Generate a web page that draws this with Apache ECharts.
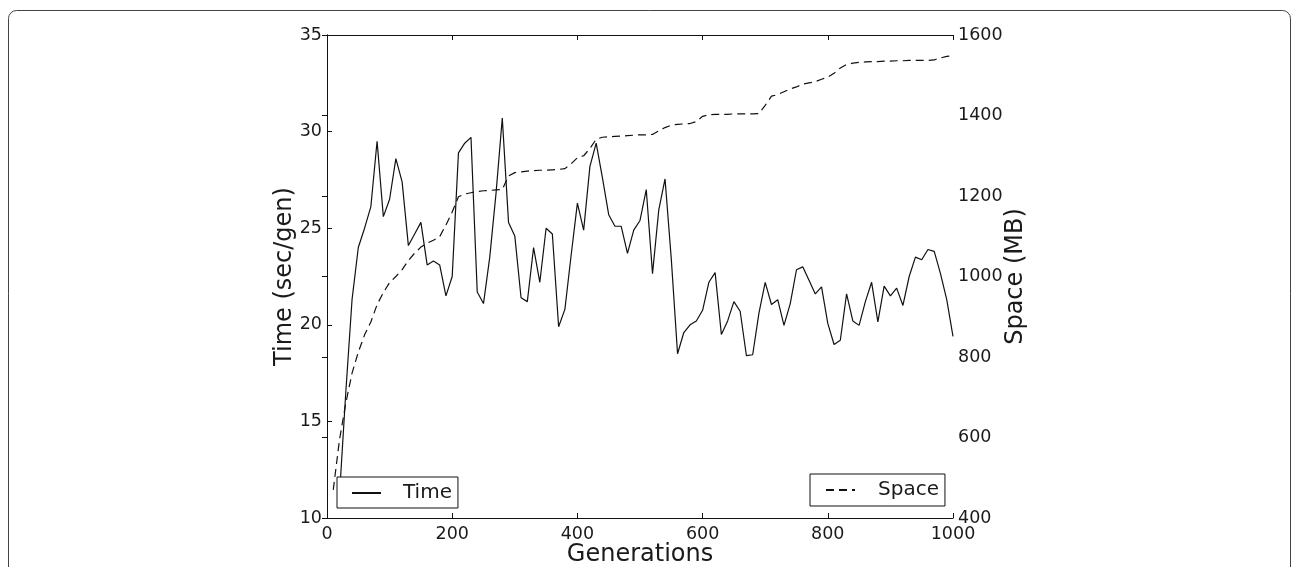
<!DOCTYPE html>
<html>
<head>
<meta charset="utf-8">
<script src="https://cdn.jsdelivr.net/npm/echarts@6/dist/echarts.min.js"></script>
<style>
  html, body { margin: 0; padding: 0; background: #fff; overflow: hidden; }
  #chart { width: 1292px; height: 567px; }
</style>
</head>
<body>
<div id="chart"></div>
<script>
const generations = [10,20,30,40,50,60,70,80,90,100,110,120,130,140,150,160,170,180,190,200,
  210,220,230,240,250,260,270,280,290,300,310,320,330,340,350,360,370,380,390,400,
  410,420,430,440,450,460,470,480,490,500,510,520,530,540,550,560,570,580,590,600,
  610,620,630,640,650,660,670,680,690,700,710,720,730,740,750,760,770,780,790,800,
  810,820,830,840,850,860,870,880,890,900,910,920,930,940,950,960,970,980,990,1000];

const timeValues = [null,11.2,16.5,21.3,24.0,25.0,26.1,29.5,25.6,26.5,
  28.6,27.4,24.1,24.7,25.3,23.1,23.3,23.1,21.5,22.5,
  28.9,29.4,29.7,21.7,21.1,23.5,26.8,30.7,25.3,24.6,
  21.4,21.2,24.0,22.2,25.0,24.7,19.9,20.8,23.6,26.3,
  24.9,28.2,29.4,27.6,25.7,25.1,25.1,23.7,24.9,25.4,
  27.0,22.65,25.95,27.55,23.4,18.5,19.6,20.0,20.2,20.75,
  22.2,22.7,19.5,20.2,21.2,20.7,18.4,18.45,20.6,22.2,
  21.05,21.3,19.97,21.1,22.85,23.0,22.3,21.6,21.96,20.07,
  18.98,19.2,21.6,20.2,19.97,21.2,22.2,20.15,22.0,21.5,
  21.9,21.0,22.5,23.5,23.37,23.9,23.8,22.65,21.3,19.4];

const spaceValues = [470,595,685,760,812,855,887,930,960,985,
  1000,1017,1040,1058,1073,1083,1090,1099,1128,1160,
  1198,1205,1208,1211,1213,1214,1215,1216,1250,1258,
  1260,1262,1263,1264,1264,1265,1266,1268,1280,1295,
  1300,1318,1341,1346,1347,1348,1349,1350,1351,1352,
  1352,1353,1362,1370,1376,1378,1379,1380,1385,1398,
  1402,1403,1403,1403,1404,1404,1404,1404,1405,1425,
  1448,1452,1459,1466,1471,1478,1481,1484,1490,1495,
  1505,1518,1527,1530,1532,1533,1534,1534,1535,1535,
  1536,1536,1537,1537,1537,1537,1538,1543,1547,1548];

const xAxisTitle = 'Generations';
const leftAxisTitle = 'Time (sec/gen)';
const rightAxisTitle = 'Space (MB)';

const FONT = 'DejaVu Sans';
const INK = '#1a1a1a';

const chart = echarts.init(document.getElementById('chart'), null, { renderer: 'canvas', width: 1292, height: 567 });

const axisLineStyle = { show: true, lineStyle: { color: '#111', width: 1 } };
const tickStyle = { show: true, inside: true, length: 5, lineStyle: { color: '#111', width: 1 } };
const labelStyle = { fontFamily: FONT, fontSize: 17.5, color: INK, formatter: v => String(v) };
const nameStyle = { fontFamily: FONT, fontSize: 24, color: INK };

const legendBase = {
  orient: 'horizontal',
  itemWidth: 29, itemHeight: 14,
  borderColor: '#111', borderWidth: 1, borderRadius: 0,
  backgroundColor: '#fff',
  itemStyle: { opacity: 0, color: 'transparent', borderWidth: 0 }
};

chart.setOption({
  animation: false,
  backgroundColor: '#fff',
  graphic: [{
    type: 'rect',
    shape: { x: 8.5, y: 10.5, width: 1282, height: 620, r: 8 },
    style: { fill: 'none', stroke: '#444', lineWidth: 1 },
    silent: true, z: -1
  }],
  grid: { left: 327, top: 35, width: 626, height: 483, containLabel: false, outerBoundsMode: 'none' },
  legend: [Object.assign({}, legendBase, {
    data: ['Time'],
    left: 337, top: 477,
    padding: [6, 6, 5, 14],
    textStyle: { fontFamily: FONT, fontSize: 20, color: INK, padding: [0, 0, 0, 17] }
  }), Object.assign({}, legendBase, {
    data: ['Space'],
    left: 810, top: 474,
    padding: [6, 6, 6, 15],
    textStyle: { fontFamily: FONT, fontSize: 20, color: INK, padding: [0, 0, 0, 18] }
  })],
  xAxis: [{
    type: 'value', position: 'bottom', min: 0, max: 1000, interval: 200,
    axisLine: axisLineStyle, axisTick: tickStyle,
    axisLabel: Object.assign({ margin: 7, showMinLabel: true, showMaxLabel: true }, labelStyle),
    splitLine: { show: false },
    name: xAxisTitle, nameLocation: 'middle', nameGap: 25, nameMoveOverlap: false,
    nameTextStyle: nameStyle
  }, {
    type: 'value', position: 'top', min: 0, max: 1000, interval: 200,
    axisLine: axisLineStyle, axisTick: tickStyle,
    axisLabel: { show: false }, splitLine: { show: false }
  }],
  yAxis: [{
    type: 'value', position: 'left', min: 10, max: 35, interval: 5,
    axisLine: axisLineStyle, axisTick: tickStyle,
    axisLabel: Object.assign({ margin: 5, showMinLabel: true, showMaxLabel: true }, labelStyle),
    splitLine: { show: false },
    name: leftAxisTitle, nameLocation: 'middle', nameRotate: 90, nameGap: 30, nameMoveOverlap: false,
    nameTextStyle: nameStyle
  }, {
    type: 'value', position: 'right', min: 400, max: 1600, interval: 200,
    axisLine: axisLineStyle, axisTick: tickStyle,
    axisLabel: Object.assign({ margin: 5, showMinLabel: true, showMaxLabel: true }, labelStyle),
    splitLine: { show: false },
    name: rightAxisTitle, nameLocation: 'middle', nameRotate: 90, nameGap: 51, nameMoveOverlap: false,
    nameTextStyle: nameStyle
  }],
  series: [{
    name: 'Time', type: 'line', xAxisIndex: 0, yAxisIndex: 0,
    data: generations.map((g, i) => [g, timeValues[i]]),
    symbol: 'none', showSymbol: false, connectNulls: false,
    lineStyle: { color: '#111', width: 1.2, type: 'solid' },
    itemStyle: { color: '#111' },
    z: 3
  }, {
    name: 'Space', type: 'line', xAxisIndex: 0, yAxisIndex: 1,
    data: generations.map((g, i) => [g, spaceValues[i]]),
    symbol: 'none', showSymbol: false,
    lineStyle: { color: '#111', width: 1.2, type: [8, 5] },
    itemStyle: { color: '#111' },
    z: 2
  }]
});
</script>
</body>
</html>
